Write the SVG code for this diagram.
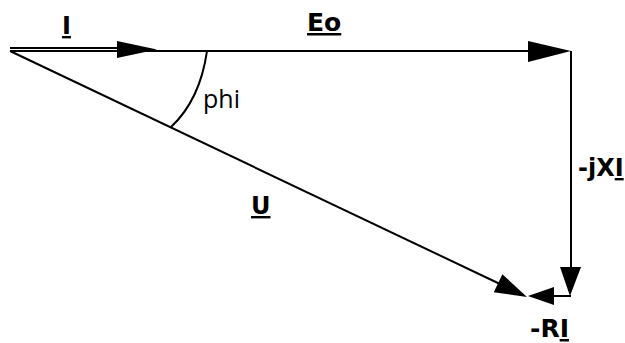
<svg xmlns="http://www.w3.org/2000/svg" width="625" height="343" viewBox="0 0 625 343">
<style>
.ln{stroke:#000;stroke-width:2;fill:none}
.hd{fill:#000;stroke:none}
.lb{font-family:"DejaVu Sans",Verdana,sans-serif;font-weight:bold;font-size:24px;fill:#000}
.ph{font-family:"Open Sans","Noto Sans",sans-serif;font-size:25px;fill:#000}
.u{text-decoration:underline}
</style>
<rect width="625" height="343" fill="#fff"/>
<g id="connectors">
<line class="ln" x1="10" y1="48" x2="120" y2="48"/>
<line class="ln" x1="10" y1="51" x2="530" y2="51"/>
<line class="ln" x1="571" y1="51" x2="571" y2="270"/>
<line class="ln" x1="571" y1="296" x2="552" y2="296"/>
<line class="ln" x1="10" y1="51" x2="500" y2="284"/>
<path class="ln" d="M207,51 Q200,100 171,127" stroke-width="1.5"/>
<polygon class="hd" points="117,41 157,49.5 117,58"/>
<polygon class="hd" points="528,41 571,51 528,62"/>
<polygon class="hd" points="560,267 570,296 581,267"/>
<polygon class="hd" points="554,287 528,296 554,305"/>
<polygon class="hd" points="493.8,292.2 527,297 502.4,274.2"/>
</g>
<g id="label-I"><text class="lb" x="62" y="34"><tspan class="u">I</tspan></text></g>
<g id="label-Eo"><text class="lb" x="307" y="31" style="font-size:25px"><tspan class="u">Eo</tspan></text></g>
<g id="label-phi"><text class="ph" x="203" y="108">phi</text></g>
<g id="label-U"><text class="lb" x="251" y="214"><tspan class="u">U</tspan></text></g>
<g id="label-jXI"><text class="lb" x="578" y="176">-jX<tspan class="u">I</tspan></text></g>
<g id="label-RI"><text class="lb" x="530" y="337" style="font-size:25px">-R<tspan class="u">I</tspan></text></g>
</svg>
